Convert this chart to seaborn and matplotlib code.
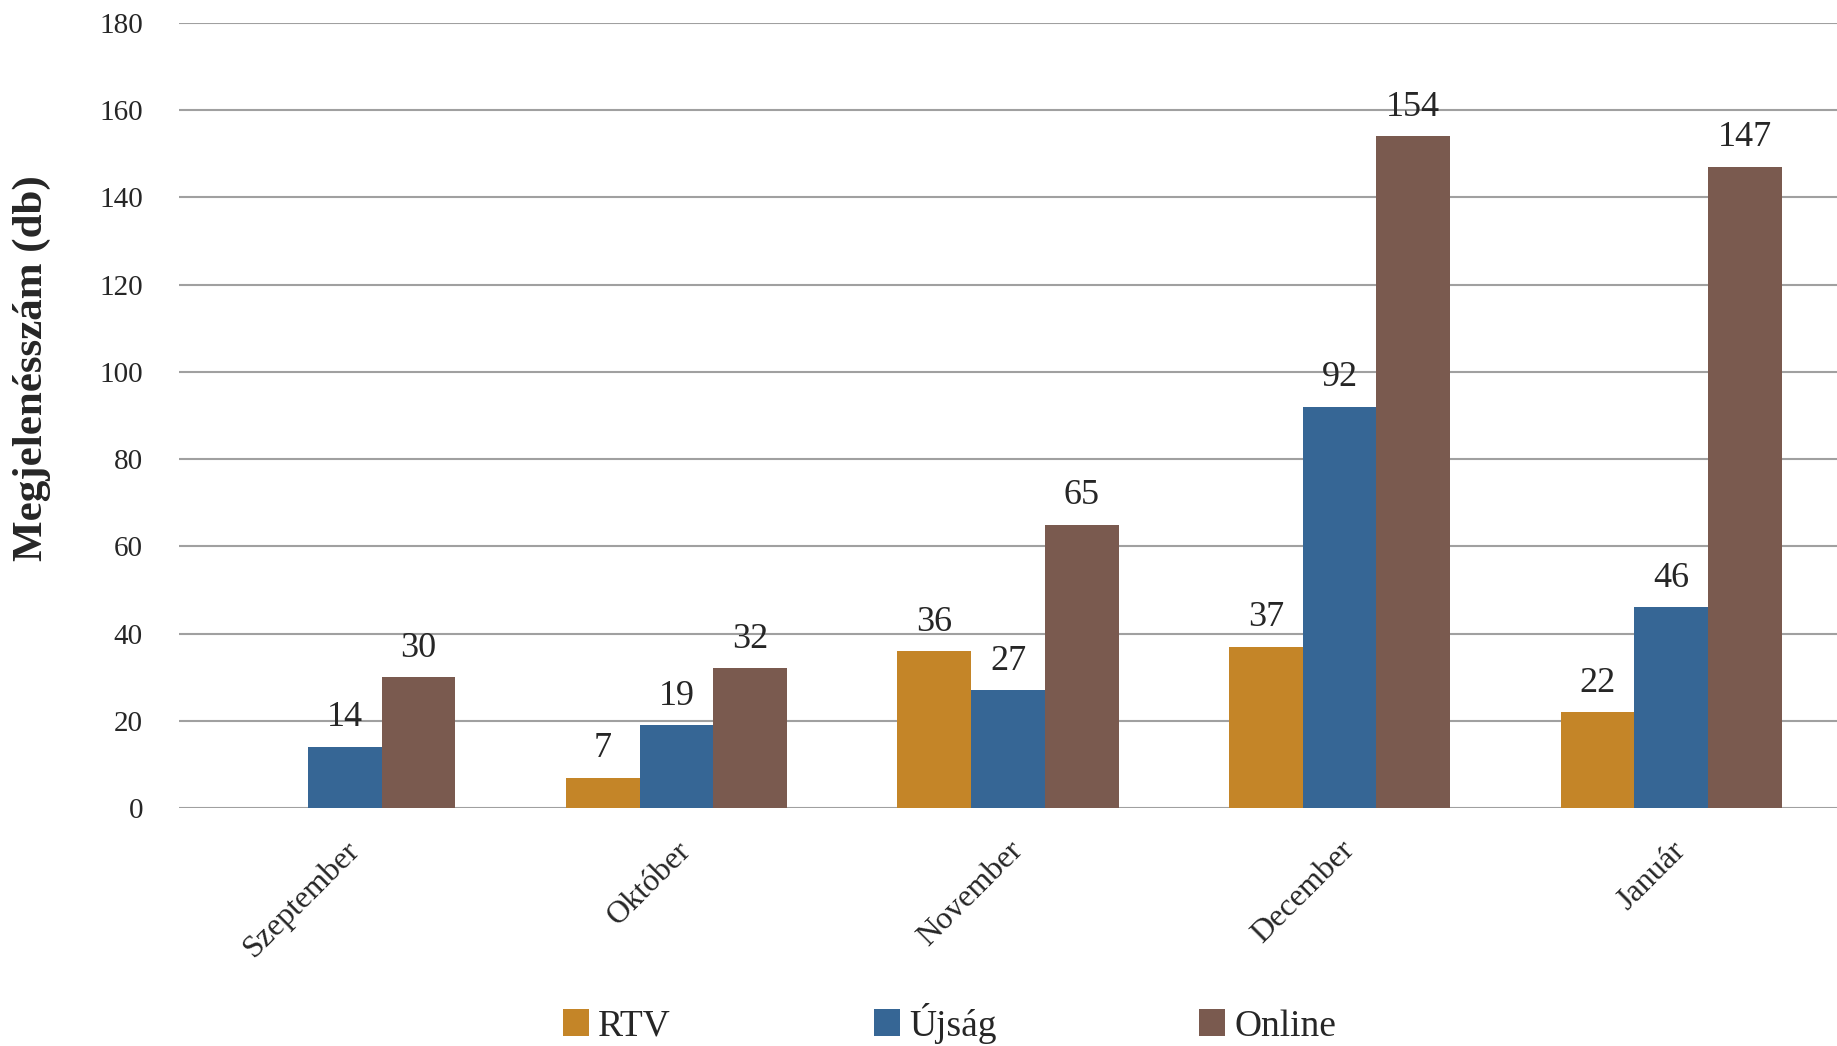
import matplotlib.pyplot as plt
import seaborn as sns
import pandas as pd

months = ["Szeptember", "Október", "November", "December", "Január"]
series = ["RTV", "Újság", "Online"]
rtv = [0, 7, 36, 37, 22]
ujsag = [14, 19, 27, 92, 46]
online = [30, 32, 65, 154, 147]
colors = ["#c48528", "#366695", "#7a5a4f"]

df = pd.DataFrame({
    "month": months * 3,
    "source": [s for s in series for _ in months],
    "value": rtv + ujsag + online,
})

sns.set_theme(style="white")
plt.rcParams["font.family"] = ["Liberation Serif", "DejaVu Serif"]

fig = plt.figure(figsize=(18.37, 10.46), dpi=100)
ax = fig.add_axes([0.0975, 0.2275, 0.9025, 0.7505])

sns.barplot(data=df, x="month", y="value", hue="source", order=months,
            hue_order=series, palette=colors, width=0.667, saturation=1,
            linewidth=0, ax=ax, legend=True)

for cont in ax.containers:
    labels = [f"{int(b.get_height())}" if b.get_height() > 0 else "" for b in cont]
    ax.bar_label(cont, labels=labels, padding=9, fontsize=26)

ax.set_ylim(0, 180)
ax.set_xlim(-0.5, 4.5)
ax.set_yticks(range(0, 181, 20))
ax.yaxis.grid(True, color="#a0a0a0", linewidth=1.5)
ax.set_axisbelow(True)
for s in ax.spines.values():
    s.set_visible(False)
ax.tick_params(axis="both", length=0)
ax.tick_params(axis="y", labelsize=21, pad=26)
ax.tick_params(axis="x", pad=20, labelsize=23)
plt.setp(ax.get_xticklabels(), rotation=45, ha="right", rotation_mode="anchor")
ax.set_xlabel("")
ax.set_ylabel("Megjelenésszám (db)", fontsize=31, fontweight="bold")
ax.yaxis.set_label_coords(-0.077, 0.56)

handles, labs = ax.get_legend_handles_labels()
ax.get_legend().remove()
fig.legend(handles, labs, loc="lower center", bbox_to_anchor=(0.517, -0.03), ncol=3,
           frameon=False, fontsize=27, handlelength=0.7, handleheight=0.7,
           handletextpad=0.25, columnspacing=5.4)

fig.savefig("out.png", dpi=100)
